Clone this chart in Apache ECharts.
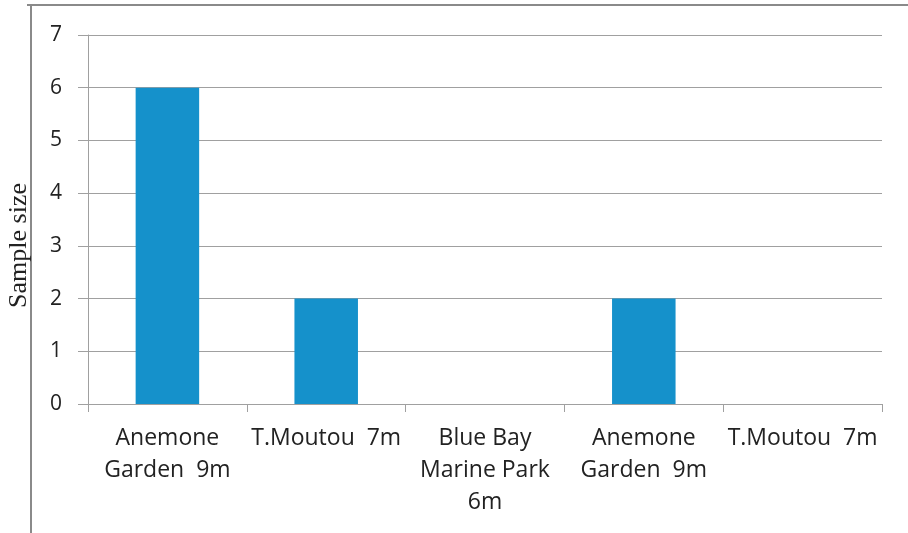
<!DOCTYPE html>
<html>
<head>
<meta charset="utf-8">
<script src="https://cdn.jsdelivr.net/npm/echarts@6/dist/echarts.min.js"></script>
<style>
  html, body { margin: 0; padding: 0; background: #fff; }
  #chart { width: 908px; height: 533px; }
</style>
</head>
<body>
<div id="chart"></div>
<script>
// sites and depth
const sites = [
  "Anemone\nGarden  9m",
  "T.Moutou  7m",
  "Blue Bay\nMarine Park\n6m",
  "Anemone\nGarden  9m",
  "T.Moutou  7m"
];
const sampleSize = [6, 2, 0, 2, 0];
const yTicks = [0, 1, 2, 3, 4, 5, 6, 7];

let myChart = echarts.init(document.getElementById("chart"));
myChart.setOption({
  animation: false,
  grid: { left: 88, right: 26, top: 35, bottom: 129, outerBoundsMode: "none", containLabel: false },
  graphic: [
    // page border left over from the source document
    { type: "line", shape: { x1: 27, y1: 5, x2: 908, y2: 5 }, style: { stroke: "#8a8a8a", lineWidth: 2 } },
    { type: "line", shape: { x1: 31, y1: 5, x2: 31, y2: 533 }, style: { stroke: "#8a8a8a", lineWidth: 2 } }
  ],
  xAxis: {
    type: "category",
    data: sites,
    axisLine: { lineStyle: { color: "#a0a0a0", width: 1 } },
    axisTick: { show: true, length: 8, lineStyle: { color: "#a0a0a0" } },
    axisLabel: {
      color: "#222",
      fontFamily: "Open Sans",
      fontSize: 23,
      lineHeight: 32,
      margin: 18,
      interval: 0
    }
  },
  yAxis: {
    type: "value",
    min: yTicks[0],
    max: yTicks[yTicks.length - 1],
    interval: 1,
    name: "Sample size",
    nameLocation: "middle",
    nameGap: 56,
    nameTextStyle: { fontFamily: "Liberation Serif", fontSize: 26, color: "#222", padding: [0, 52, 0, 0] },
    axisLine: { show: true, lineStyle: { color: "#a0a0a0" } },
    axisTick: { show: true, length: 10, lineStyle: { color: "#a0a0a0" } },
    axisLabel: { color: "#222", fontFamily: "Open Sans", fontSize: 21, margin: 26 },
    splitLine: { lineStyle: { color: "#a0a0a0", width: 1 } }
  },
  series: [
    {
      type: "bar",
      data: sampleSize,
      barWidth: "40%",
      itemStyle: { color: "#1591cb" }
    }
  ]
});
</script>
</body>
</html>
